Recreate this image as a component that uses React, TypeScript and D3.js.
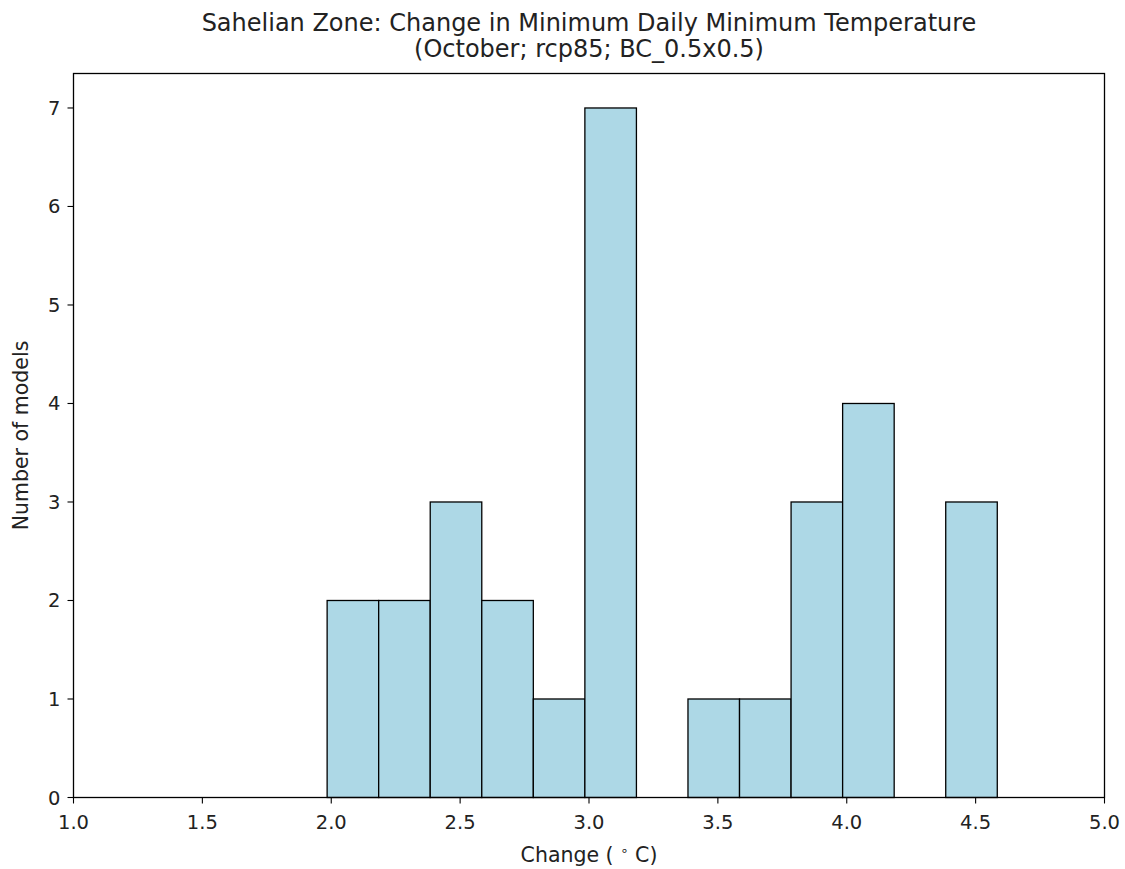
import React from "react";
import * as d3 from "d3";

const binEdges = [1.984, 2.184, 2.384, 2.584, 2.784, 2.984, 3.184, 3.384, 3.584, 3.784, 3.984, 4.184, 4.384, 4.584];
const counts = [2, 2, 3, 2, 1, 7, 0, 1, 1, 3, 4, 0, 3];
const xTicks = [1.0, 1.5, 2.0, 2.5, 3.0, 3.5, 4.0, 4.5, 5.0];
const yTicks = [0, 1, 2, 3, 4, 5, 6, 7];
const titleLines = ["Sahelian Zone: Change in Minimum Daily Minimum Temperature", "(October; rcp85; BC_0.5x0.5)"];

export default function App() {
  const W = 1125, H = 869;
  const left = 73.5, right = 1104.5, top = 73.5, bottom = 797.5;
  const x = d3.scaleLinear().domain([1, 5]).range([left, right]);
  const y = d3.scaleLinear().domain([0, 7.35]).range([bottom, top]);
  const font = "DejaVu Sans, sans-serif";
  const tickFs = 19.5;
  const labelFs = 20.5;
  return (
    <svg width={W} height={H} style={{ position: "absolute", left: 0, top: 0, background: "#fff" }}>
      {counts.map((c, i) =>
        c > 0 ? (
          <rect key={i} x={x(binEdges[i])} y={y(c)} width={x(binEdges[i + 1]) - x(binEdges[i])} height={y(0) - y(c)}
            fill="#add8e6" stroke="#000" strokeWidth={1.3} />
        ) : null
      )}
      <rect x={left} y={top} width={right - left} height={bottom - top} fill="none" stroke="#000" strokeWidth={1.3} />
      {xTicks.map((t) => (
        <g key={t}>
          <line x1={x(t)} x2={x(t)} y1={bottom} y2={bottom + 6} stroke="#000" strokeWidth={1.1} />
          <text x={x(t)} y={829} textAnchor="middle" fontFamily={font} fontSize={tickFs} fill="#222">{t.toFixed(1)}</text>
        </g>
      ))}
      {yTicks.map((t) => (
        <g key={t}>
          <line x1={left - 6} x2={left} y1={y(t)} y2={y(t)} stroke="#000" strokeWidth={1.1} />
          <text x={left - 13} y={y(t) + 7} textAnchor="end" fontFamily={font} fontSize={tickFs} fill="#222">{t}</text>
        </g>
      ))}
      <text x={(left + right) / 2} y={862} textAnchor="middle" fontFamily={font} fontSize={labelFs} fill="#222">
        Change ( <tspan dy={-7} fontSize={13.5}>∘</tspan><tspan dy={7}> C)</tspan>
      </text>
      <text transform={`translate(28,${(top + bottom) / 2}) rotate(-90)`} textAnchor="middle" fontFamily={font} fontSize={labelFs} fill="#222">Number of models</text>
      {titleLines.map((l, i) => (
        <text key={i} x={(left + right) / 2} y={31 + i * 26} textAnchor="middle" fontFamily={font} fontSize={24} fill="#222">{l}</text>
      ))}
    </svg>
  );
}
